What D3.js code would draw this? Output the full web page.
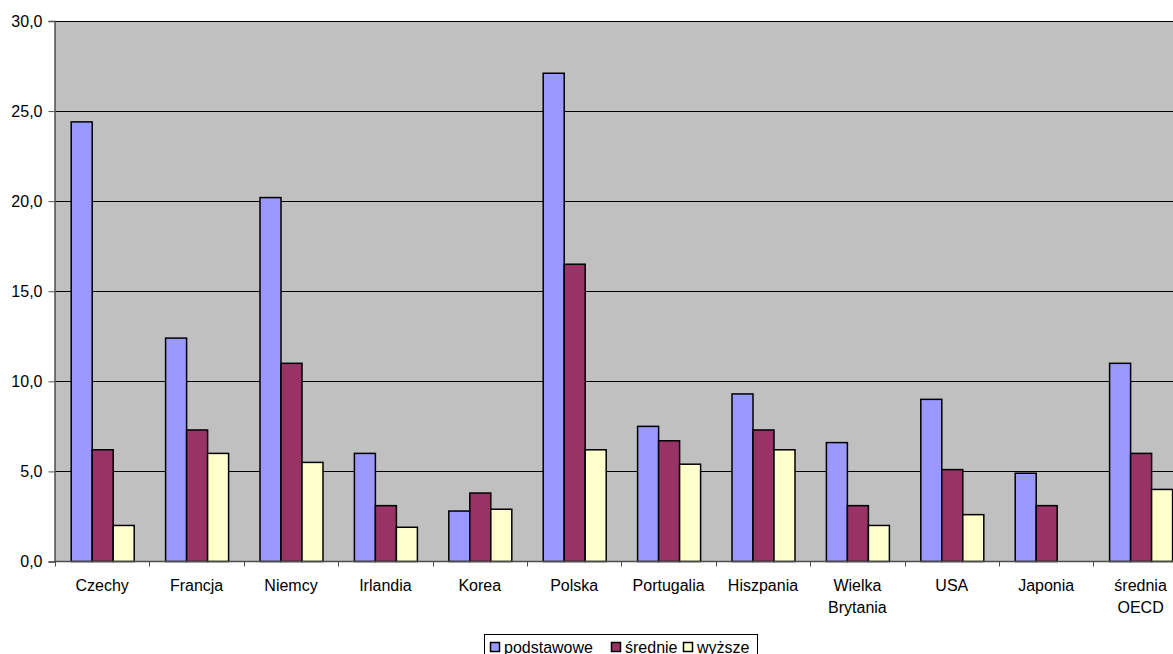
<!DOCTYPE html>
<html>
<head>
<meta charset="utf-8">
<script src="https://cdn.jsdelivr.net/npm/d3@7"></script>
<style>
    body { margin: 0; background: #fff; }
    svg { display: block; font-family: "Liberation Sans", Arial, sans-serif; }
</style>
</head>
<body>
<div id="chart"></div>
<script>
// categories and series
const countries = [
    ["Czechy"], ["Francja"], ["Niemcy"], ["Irlandia"], ["Korea"], ["Polska"],
    ["Portugalia"], ["Hiszpania"], ["Wielka", "Brytania"], ["USA"], ["Japonia"], ["średnia", "OECD"]
];
const seriesNames = ["podstawowe", "średnie", "wyższe"];
const podstawowe = [24.4, 12.4, 20.2, 6.0, 2.8, 27.1, 7.5, 9.3, 6.6, 9.0, 4.9, 11.0];
const srednie    = [6.2, 7.3, 11.0, 3.1, 3.8, 16.5, 6.7, 7.3, 3.1, 5.1, 3.1, 6.0];
const wyzsze     = [2.0, 6.0, 5.5, 1.9, 2.9, 6.2, 5.4, 6.2, 2.0, 2.6, null, 4.0];
const yTicks = [0, 5, 10, 15, 20, 25, 30];

const colors = ["#9999ff", "#993366", "#ffffcc"];
const seriesValues = [podstawowe, srednie, wyzsze];

const W = 1173, H = 654;
const margin = {left: 55, top: 21, bottom: 561.5};

const svg = d3.select("#chart").append("svg")
    .attr("width", W)
    .attr("height", H);

// scales
const x0 = d3.scaleBand()
    .domain(d3.range(countries.length))
    .range([margin.left, margin.left + 94.4 * countries.length])
    .padding(0);

const x1 = d3.scaleBand()
    .domain(d3.range(seriesNames.length))
    .range([15.7, x0.bandwidth() - 15.7])
    .padding(0);

const y = d3.scaleLinear()
    .domain([0, 30])
    .range([margin.bottom, margin.top]);

// plot background
svg.append("rect")
    .attr("x", margin.left)
    .attr("y", margin.top)
    .attr("width", x0.range()[1] - margin.left)
    .attr("height", margin.bottom - margin.top)
    .attr("fill", "#c0c0c0");

// gridlines
svg.append("g")
    .selectAll("line")
    .data(yTicks.filter(d => d > 0))
    .join("line")
    .attr("x1", margin.left)
    .attr("x2", x0.range()[1])
    .attr("y1", d => Math.round(y(d)) + 0.5)
    .attr("y2", d => Math.round(y(d)) + 0.5)
    .attr("stroke", "#000")
    .attr("stroke-width", 1);

// bars
const groups = svg.append("g")
    .selectAll("g")
    .data(countries.map((c, i) => i))
    .join("g")
    .attr("transform", i => "translate(" + x0(i) + ",0)");

groups.selectAll("rect")
    .data(i => seriesValues.map((s, k) => ({k: k, v: s[i]})).filter(d => d.v != null))
    .join("rect")
    .attr("x", d => x1(d.k) + 0.5)
    .attr("y", d => y(d.v))
    .attr("width", x1.bandwidth())
    .attr("height", d => margin.bottom - y(d.v))
    .attr("fill", d => colors[d.k])
    .attr("stroke", "#000")
    .attr("stroke-width", 1.5);

// y axis
const yAxis = d3.axisLeft(y)
    .tickValues(yTicks)
    .tickSize(6)
    .tickPadding(6)
    .tickFormat(d => d3.format(".1f")(d).replace(".", ","));

const yG = svg.append("g")
    .attr("transform", "translate(" + (margin.left - 0.5) + ",0)")
    .call(yAxis);
yG.select(".domain").attr("stroke", "#4d4d4d").attr("stroke-width", 1.5);
yG.selectAll(".tick line").attr("stroke", "#4d4d4d");
yG.selectAll("text")
    .attr("font-size", 16)
    .attr("fill", "#000")
    .attr("font-family", "Liberation Sans, Arial, sans-serif");

// x axis line and ticks
svg.append("line")
    .attr("x1", margin.left)
    .attr("x2", x0.range()[1])
    .attr("y1", margin.bottom)
    .attr("y2", margin.bottom)
    .attr("stroke", "#4d4d4d")
    .attr("stroke-width", 1.5);

svg.append("g")
    .selectAll("line")
    .data(d3.range(countries.length + 1))
    .join("line")
    .attr("x1", i => Math.round(margin.left + i * x0.step()) + 0.5)
    .attr("x2", i => Math.round(margin.left + i * x0.step()) + 0.5)
    .attr("y1", margin.bottom)
    .attr("y2", margin.bottom + 5)
    .attr("stroke", "#4d4d4d");

// category labels
const labels = svg.append("g")
    .selectAll("text")
    .data(countries)
    .join("text")
    .attr("x", (d, i) => x0(i) + x0.bandwidth() / 2)
    .attr("y", 591)
    .attr("text-anchor", "middle")
    .attr("font-size", 16)
    .attr("fill", "#000");

labels.selectAll("tspan")
    .data(d => d)
    .join("tspan")
    .attr("x", function() { return d3.select(this.parentNode).attr("x"); })
    .attr("dy", (d, i) => i === 0 ? 0 : 22)
    .text(d => d);

// legend
const legend = svg.append("g");
legend.append("rect")
    .attr("x", 484.5)
    .attr("y", 634.5)
    .attr("width", 273)
    .attr("height", 24)
    .attr("fill", "#fff")
    .attr("stroke", "#000");

const legendX = [490, 611, 683];
seriesNames.forEach((name, k) => {
    legend.append("rect")
        .attr("x", legendX[k] + 0.5)
        .attr("y", 642.5)
        .attr("width", 9)
        .attr("height", 9)
        .attr("fill", colors[k])
        .attr("stroke", "#000")
        .attr("stroke-width", 1.5);
    legend.append("text")
        .attr("x", legendX[k] + 14)
        .attr("y", 652.5)
        .attr("font-size", 16)
        .attr("fill", "#000")
        .text(name);
});
</script>
</body>
</html>
